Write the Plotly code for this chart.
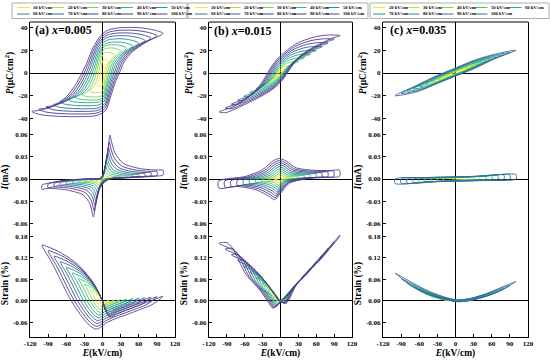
import plotly.graph_objects as go

# ---------------- data ----------------
FIELDS = [10, 20, 30, 40, 50, 60, 70, 80, 90, 100]          # kV/cm, panels (a),(b)
FIELDS_C = [20, 30, 40, 50, 60, 70, 80, 90, 100]            # kV/cm, panel (c)
COLORS_AB = ["#fde725", "#b8de29", "#73d056", "#3cbb75", "#1fa187",
             "#25858e", "#32658e", "#3f4788", "#463883", "#5a3a92"]
COLORS_C = ["#fde725", "#c0df25", "#86d549", "#52c569", "#2ab07f",
            "#1f9a8a", "#23888e", "#2c738e", "#3a6aa0"]

# (a) x=0.005 -- outer (100 kV/cm) loops
PA_E = [100, 85, 60, 30, 10, -3, -15, -26, -34, -43, -60, -85, -105, -117,
        -105, -80, -40, -10, 5, 14, 22, 28, 36, 50, 75, 100]
PA_P = [35, 38, 40, 40, 38, 33, 23, 9, 0, -9, -21, -30, -33, -34,
        -36.5, -38, -38.5, -37.5, -33, -20, -7, 0, 10, 19, 28, 35]
PA_AMP = [0.3, 0.45, 0.55, 0.62, 0.68, 0.75, 0.82, 0.88, 0.94, 1.0]

IA_E = [-100, -92, -59, -20, -4, 1.4, 6, 10, 12.4, 15, 20.7, 34.5, 62, 90, 100,
        100, 79, 40, 12, 1.4, -7, -12, -15, -18, -21, -32, -59, -92, -100, -100]
IA_I = [-0.008, -0.006, -0.0013, 0.0, 0.001, 0.0076, 0.025, 0.045, 0.059, 0.05,
        0.035, 0.021, 0.014, 0.012, 0.012, 0.0054, 0.004, 0.0022, 0.0, -0.006,
        -0.017, -0.037, -0.051, -0.042, -0.033, -0.0215, -0.0148, -0.0126, -0.014, -0.008]
IA_AMP = [0.1, 0.17, 0.25, 0.33, 0.42, 0.51, 0.61, 0.72, 0.85, 1.0]

SA_E = [-100, -85, -70, -55, -40, -25, -12, -5, 5, 20, 40, 60, 80, 95, 100,
        80, 60, 40, 25, 12, 6, 0, -15, -40, -70, -90, -100]
SA_S = [0.155, 0.11, 0.06, 0.01, -0.03, -0.062, -0.078, -0.075, -0.062, -0.05,
        -0.038, -0.025, -0.012, 0.005, 0.013, 0.0, -0.012, -0.025, -0.035, -0.045,
        -0.03, 0.0, 0.05, 0.1, 0.135, 0.15, 0.155]
SA_AMP = [0.12, 0.2, 0.3, 0.4, 0.5, 0.6, 0.7, 0.8, 0.9, 1.0]

# (b) x=0.015
PB_E = [100, 80, 55, 26, 4, -7, -18.6, -24, -35.5, -58, -80.6, -103,
        -92, -69, -41, -13, 4, 9.6, 20.8, 37.7, 66, 88, 100]
PB_P = [33, 33.5, 31.5, 25.7, 17, 11.4, 2.9, -2.3, -11.4, -22.9, -30, -34.3,
        -35, -30, -22.9, -14.3, -5.7, -1.4, 7.1, 17, 25.7, 30.9, 33]
PB_AMP = [0.1, 0.2, 0.3, 0.4, 0.5, 0.6, 0.7, 0.8, 0.9, 1.0]

IB_E = [-104, -58, -30, -13, -1.7, 9.6, 26.5, 55, 83, 99, 99, 71.5, 43, 15,
        -1.7, -10, -18.6, -41, -75, -103, -104]
IB_I = [-0.003, 0.0036, 0.0127, 0.024, 0.0277, 0.024, 0.015, 0.0118, 0.0114,
        0.0118, 0.0036, 0.0027, 0.0, -0.0055, -0.021, -0.028, -0.0236, -0.0145,
        -0.01, -0.0123, -0.003]
IB_AMP = [0.1, 0.2, 0.3, 0.4, 0.5, 0.6, 0.7, 0.8, 0.9, 1.0]

SB_E = [-103, -90, -80, -58, -35.5, -18.6, -13, -4.5, 1, 15, 43, 71.5, 88, 100,
        96, 83, 55, 26.5, 9.6, -1.7, -13, -35.5, -58, -80.6, -103]
SB_S = [0.16, 0.162, 0.145, 0.074, 0.032, -0.008, -0.02, -0.011, 0.0, 0.021, 0.077,
        0.123, 0.16, 0.183, 0.172, 0.146, 0.095, 0.044, -0.006, 0.0, 0.025, 0.074,
        0.11, 0.142, 0.16]
SB_AMP = [0.1, 0.2, 0.3, 0.4, 0.5, 0.6, 0.7, 0.8, 0.9, 1.0]

# (c) x=0.035
PC_E = [100, 73.7, 35, 2, -36.7, -70, -100, -64, -31, 2, 35, 68, 100]
PC_P = [20, 17.7, 12, 4.9, -3.7, -12.3, -20, -16.6, -9.4, -2.3, 4.9, 13.4, 20]
PC_AMP = [0.2, 0.3, 0.4, 0.5, 0.6, 0.7, 0.8, 0.9, 1.0]

IC_E = [-100, -50, 0, 50, 100, 100, 50, 0, -50, -100, -100]
IC_I = [0.0, 0.002, 0.003, 0.004, 0.006, 0.0, -0.002, -0.003, -0.004, -0.006, 0.0]
IC_AMP = [0.5, 0.55, 0.62, 0.68, 0.75, 0.82, 0.88, 0.94, 1.0]

SC_E = [-100, -75, -48, -20, 2, 24, 52, 79, 100, 79, 52, 24, 2, -20, -48, -75, -100]
SC_S = [0.077, 0.054, 0.03, 0.012, 0.003, 0.007, 0.021, 0.04, 0.054, 0.032, 0.014,
        0.001, -0.002, 0.007, 0.023, 0.046, 0.077]
SC_AMP = [0.05, 0.1, 0.17, 0.26, 0.37, 0.5, 0.64, 0.81, 1.0]

X_TICKS = [-120, -90, -60, -30, 0, 30, 60, 90, 120]
P_TICKS = [-40, -20, 0, 20, 40]
I_TICKS = [-0.06, -0.03, 0.0, 0.03, 0.06]
S_TICKS = [-0.06, 0.0, 0.06, 0.12, 0.18]
P_LABELS = ["-40", "-20", "0", "20", "40"]
I_LABELS = ["-0.06", "-0.03", "0.00", "0.03", "0.06"]
S_LABELS = ["-0.06", "0.00", "0.06", "0.12", "0.18"]
X_LABELS = ["-120", "-90", "-60", "-30", "0", "30", "60", "90", "120"]

PANEL_LABELS = ["(a) <i>x</i>=0.005", "(b) <i>x</i>=0.015", "(c) <i>x</i>=0.035"]

# ---------------- layout geometry (pixels) ----------------
W, H = 550, 360
COL_X = [(30, 175), (209, 352), (383, 528)]
ROW_Y = [(22, 124), (124, 230), (230, 337)]   # P, I, Strain
Y_RANGES = [[-45, 45], [-0.0686, 0.074], [-0.1, 0.197]]
FONT = "Liberation Serif"

def fx(px):
    return px / W

def fy(py):
    return 1 - py / H

fig = go.Figure()

panels = [
    [(PA_E, PA_P, PA_AMP), (IA_E, IA_I, IA_AMP), (SA_E, SA_S, SA_AMP)],
    [(PB_E, PB_P, PB_AMP), (IB_E, IB_I, IB_AMP), (SB_E, SB_S, SB_AMP)],
    [(PC_E, PC_P, PC_AMP), (IC_E, IC_I, IC_AMP), (SC_E, SC_S, SC_AMP)],
]
col_fields = [FIELDS, FIELDS, FIELDS_C]
col_colors = [COLORS_AB, COLORS_AB, COLORS_C]

for c in range(3):
    xname = "x" if c == 0 else f"x{c+1}"
    for r in range(3):
        yi = c * 3 + r + 1
        yname = "y" if yi == 1 else f"y{yi}"
        E_t, Y_t, amps = panels[c][r]
        for k, F in enumerate(col_fields[c]):
            fig.add_trace(go.Scatter(
                x=[e * F / 100 for e in E_t],
                y=[v * amps[k] for v in Y_t],
                mode="lines",
                line=dict(color=col_colors[c][k], width=0.9, shape="spline", smoothing=0.8),
                name=f"{F} kV/cm",
                showlegend=False,
                xaxis=xname, yaxis=yname,
                hoverinfo="skip",
            ))

tickfont = dict(family=FONT, size=7, color="black", weight="bold")
titlefont = dict(family=FONT, size=9.5, color="black", weight="bold")
layout = dict(width=W, height=H, margin=dict(l=0, r=0, t=0, b=0, autoexpand=False),
              paper_bgcolor="white", plot_bgcolor="white", showlegend=False)

y_titles = ["<i>P</i>(μC/cm<sup>2</sup>)", "<i>I</i>(mA)", "Strain (%)"]
y_ticks = [(P_TICKS, P_LABELS), (I_TICKS, I_LABELS), (S_TICKS, S_LABELS)]

for c in range(3):
    xkey = "xaxis" if c == 0 else f"xaxis{c+1}"
    layout[xkey] = dict(
        domain=[fx(COL_X[c][0]), fx(COL_X[c][1])], range=[-120, 120],
        tickvals=X_TICKS, ticktext=X_LABELS, ticks="inside", ticklen=3,
        tickwidth=0.8, tickcolor="black", showline=True, linecolor="black",
        linewidth=1, zeroline=True, zerolinecolor="black", zerolinewidth=1,
        showgrid=False, tickfont=tickfont, anchor=f"y{c*3+3}", automargin=False,
        title=dict(text="<i>E</i>(kV/cm)", font=titlefont, standoff=1),
    )
    for r in range(3):
        yi = c * 3 + r + 1
        ykey = "yaxis" if yi == 1 else f"yaxis{yi}"
        layout[ykey] = dict(
            domain=[fy(ROW_Y[r][1]), fy(ROW_Y[r][0])], range=Y_RANGES[r],
            tickvals=y_ticks[r][0], ticktext=y_ticks[r][1], ticks="inside",
            ticklen=3, tickwidth=0.8, tickcolor="black", showline=True,
            mirror=True, linecolor="black", linewidth=1, zeroline=True,
            zerolinecolor="black", zerolinewidth=1, showgrid=False,
            tickfont=tickfont, anchor="x" if c == 0 else f"x{c+1}", automargin=False,
            title=dict(text=y_titles[r], font=titlefont, standoff=2),
        )

fig.update_layout(**layout)

shapes = []
annotations = []
# top frame line of each column
for c in range(3):
    shapes.append(dict(type="line", xref="paper", yref="paper",
                       x0=fx(COL_X[c][0]), x1=fx(COL_X[c][1]),
                       y0=fy(ROW_Y[0][0]), y1=fy(ROW_Y[0][0]),
                       line=dict(color="black", width=1)))

# panel labels
label_pos = [(33, 30), (212, 31), (388, 30)]
for c in range(3):
    annotations.append(dict(text=f"<b>{PANEL_LABELS[c]}</b>", xref="paper", yref="paper",
                            x=fx(label_pos[c][0]), y=fy(label_pos[c][1]),
                            xanchor="left", yanchor="middle", showarrow=False,
                            font=dict(family=FONT, size=12, color="black")))

# legends (drawn as boxes, line swatches and text)
leg_boxes = [(12, 187), (188, 368), (370, 549)]
leg_x0 = [31, 209, 387]
leg_dx = [34.5, 33, 34]
rows_y = [7.5, 14]
for c in range(3):
    shapes.append(dict(type="rect", xref="paper", yref="paper",
                       x0=fx(leg_boxes[c][0]), x1=fx(leg_boxes[c][1]),
                       y0=fy(18.5), y1=fy(3),
                       line=dict(color="#9a9a9a", width=0.8)))
    for k, F in enumerate(col_fields[c]):
        row, colk = divmod(k, 5)
        tx = leg_x0[c] + colk * leg_dx[c]
        ty = rows_y[row]
        shapes.append(dict(type="line", xref="paper", yref="paper",
                           x0=fx(tx - 14), x1=fx(tx - 1.5), y0=fy(ty), y1=fy(ty),
                           line=dict(color=col_colors[c][k], width=1)))
        annotations.append(dict(text=f"{F} kV/cm", xref="paper", yref="paper",
                                x=fx(tx), y=fy(ty), xanchor="left", yanchor="middle",
                                showarrow=False,
                                font=dict(family=FONT, size=4.6, color="black", weight="bold")))

fig.update_layout(shapes=shapes, annotations=annotations)
fig.write_html("out.html", config={"displayModeBar": False},
               post_script="document.body.style.margin='0';document.body.style.padding='0';")
